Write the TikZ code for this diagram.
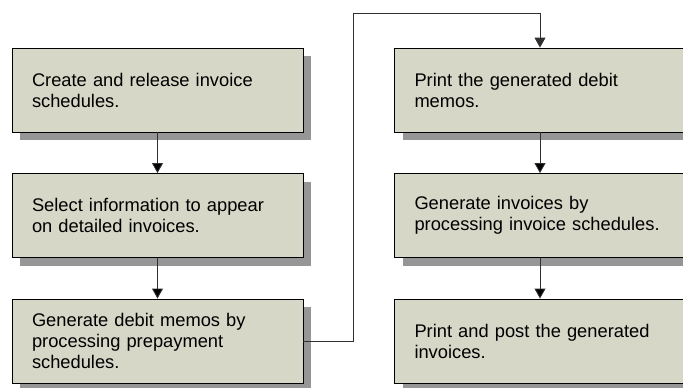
\documentclass[tikz,border=0pt]{standalone}
\usepackage{fontspec}
\setmainfont{Liberation Sans}
\usetikzlibrary{arrows.meta,shadows}

\definecolor{boxfill}{RGB}{214,215,199}
\definecolor{shadowgray}{RGB}{150,150,150}
\definecolor{linegray}{RGB}{48,48,48}

\begin{document}
\begin{tikzpicture}[x=1pt,y=-1pt,>={Triangle[length=10pt,width=11pt]},
                    node distance=125.5pt,line width=0.9pt]
  \tikzstyle{stepbox}=[draw=black,fill=boxfill,minimum width=291pt,
    minimum height=84pt,text width=251pt,inner xsep=20pt,align=left,
    font=\fontsize{18.3}{21}\selectfont,
    drop shadow={shadow xshift=8pt,shadow yshift=-8pt,fill=shadowgray,opacity=1}]
  \tikzstyle{link}=[->,draw=linegray]

  \useasboundingbox (0,0) rectangle (683,388);

  \node[stepbox] (c1) at (157.5,90) {Create and release invoice\\schedules.};
  \node[stepbox] (c2) [below of=c1] {Select information to appear\\on detailed invoices.};
  \node[stepbox] (c3) [below of=c2] {Generate debit memos by\\processing prepayment\\schedules.};

  \node[stepbox] (r1) [right of=c1,node distance=382.5pt] {Print the generated debit\\memos.};
  \node[stepbox] (r2) [below of=r1] {Generate invoices by\\processing invoice schedules.};
  \node[stepbox] (r3) [below of=r2] {Print and post the generated\\invoices.};

  \coordinate (turn) at (353,13);

  \path[link] (c1) edge (c2);
  \path[link] (c2) edge (c3);
  \draw[link] (c3.east) -| (turn) -| (r1.north);
  \path[link] (r1) edge (r2);
  \path[link] (r2) edge (r3);
\end{tikzpicture}
\end{document}
